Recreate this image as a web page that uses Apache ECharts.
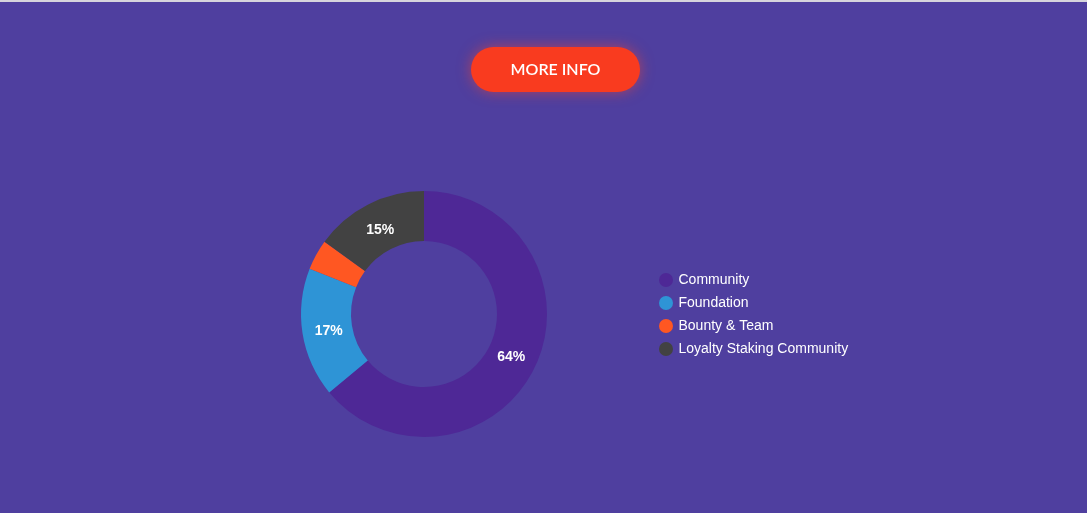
<!DOCTYPE html>
<html>
<head>
<meta charset="utf-8">
<script src="https://cdn.jsdelivr.net/npm/echarts@6/dist/echarts.min.js"></script>
<style>
  html, body { margin: 0; padding: 0; background: #4f3f9f; }
  #chart { width: 1087px; height: 513px; }
</style>
</head>
<body>
<div id="chart"></div>
<script>
const categories = ["Community", "Foundation", "Bounty & Team", "Loyalty Staking Community"];
const shares = [64, 17, 4, 15];
const colors = ["#4e2896", "#2e94d6", "#ff5722", "#424242"];

const center = [424, 314];
const myChart = echarts.init(document.getElementById("chart"));
const option = {
  backgroundColor: "#4f3f9f",
  color: colors,
  animation: false,
  graphic: [
    {
      type: "rect",
      shape: { x: 0, y: 0, width: 1087, height: 2 },
      style: { fill: "#d6d4dc" }
    },
    {
      type: "rect",
      shape: { x: 471, y: 47, width: 169, height: 45, r: 22.5 },
      style: {
        fill: "#f93b1f",
        shadowBlur: 14,
        shadowColor: "rgba(255,70,40,0.55)"
      }
    },
    {
      type: "text",
      x: 555.5,
      y: 69.5,
      style: {
        text: "MORE INFO",
        fill: "#ffffff",
        font: "600 16px Lato, 'Noto Sans', sans-serif",
        align: "center",
        verticalAlign: "middle"
      }
    }
  ],
  legend: {
    orient: "vertical",
    left: 659,
    top: 273,
    padding: 0,
    icon: "circle",
    itemWidth: 15,
    itemHeight: 14,
    itemGap: 9,
    textStyle: {
      color: "#ffffff",
      fontSize: 14,
      fontFamily: "Arial, 'Liberation Sans', sans-serif"
    },
    data: categories
  },
  series: [
    {
      type: "pie",
      center: center,
      radius: [73, 123],
      startAngle: 90,
      clockwise: true,
      minShowLabelAngle: 20,
      label: {
        show: true,
        position: "inside",
        formatter: "{d}%",
        color: "#ffffff",
        fontSize: 14,
        fontWeight: "bold",
        fontFamily: "Arial, 'Liberation Sans', sans-serif"
      },
      labelLayout: function (params) {
        const r = params.labelRect;
        const lx = r.x + r.width / 2;
        const ly = r.y + r.height / 2;
        const k = 0.955;
        return {
          x: center[0] + (lx - center[0]) * k,
          y: center[1] + (ly - center[1]) * k + 2
        };
      },
      labelLine: { show: false },
      emphasis: { disabled: true },
      data: categories.map((name, i) => ({ name: name, value: shares[i] }))
    }
  ]
};
myChart.setOption(option);
window.addEventListener("resize", function () {
  myChart.resize();
});
</script>
</body>
</html>
